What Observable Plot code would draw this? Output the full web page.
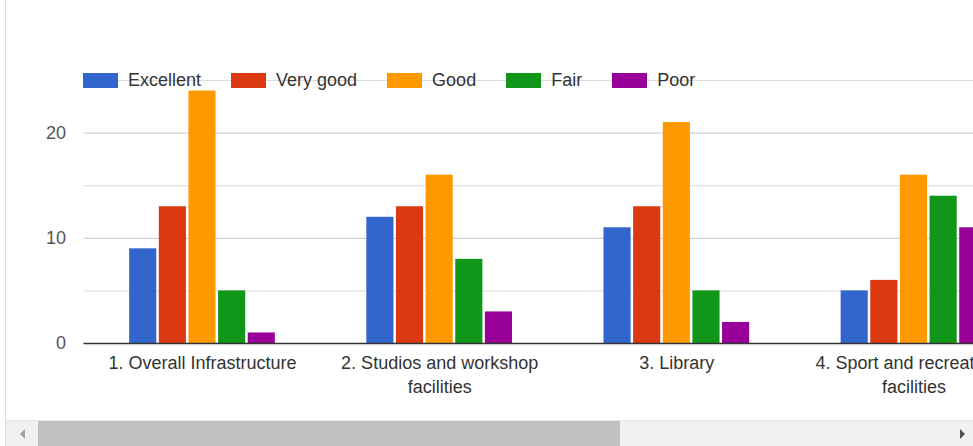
<!DOCTYPE html>
<html>
<head>
<meta charset="utf-8">
<script src="https://cdn.jsdelivr.net/npm/d3@7"></script>
<script src="https://cdn.jsdelivr.net/npm/@observablehq/plot@0.6"></script>
<style>
html,body{margin:0;padding:0;background:#fff;overflow:hidden;}
#wrap{position:relative;width:973px;height:446px;overflow:hidden;font-family:"Liberation Sans",Arial,sans-serif;background:#fff;}
#frame{position:absolute;left:5px;top:0;width:1px;height:446px;background:#dcdcdc;}
#chart{position:absolute;left:0;top:0;}
#legend{position:absolute;left:83px;top:70px;display:flex;gap:30px;font-size:18px;color:#333;line-height:21px;}
.item{display:flex;align-items:center;gap:10px;}
.sw{width:35px;height:15px;}
#scroll{position:absolute;left:6px;top:420px;width:967px;height:26px;background:#f1f1f1;border-top:1px solid #e6e6e6;}
#thumb{position:absolute;left:32px;top:0;width:582px;height:26px;background:#c1c1c1;}
#la{position:absolute;left:14px;top:8px;width:0;height:0;border-top:5px solid transparent;border-bottom:5px solid transparent;border-right:5px solid #a3a3a3;}
#ra{position:absolute;left:954px;top:8px;width:0;height:0;border-top:5px solid transparent;border-bottom:5px solid transparent;border-left:5px solid #505050;}
</style>
</head>
<body>
<div id="wrap">
  <div id="frame"></div>
  <div id="chart"></div>
  <div id="legend"></div>
  <div id="scroll"><div id="thumb"></div><div id="la"></div><div id="ra"></div></div>
</div>
<script>
const categories = ["1. Overall Infrastructure", "2. Studios and workshop facilities", "3. Library", "4. Sport and recreational facilities"];
const tickLabels = ["1. Overall Infrastructure", "2. Studios and workshop\nfacilities", "3. Library", "4. Sport and recreational\nfacilities"];
const ratings = ["Excellent", "Very good", "Good", "Fair", "Poor"];
const colors = ["#3366cc", "#dc3912", "#ff9900", "#109618", "#990099"];
const excellent = [9, 12, 11, 5];
const veryGood = [13, 13, 13, 6];
const good = [24, 16, 21, 16];
const fair = [5, 8, 5, 14];
const poor = [1, 3, 2, 11];
const yTicks = [0, 10, 20];
const majorGrid = [10, 20];
const minorGrid = [5, 15, 25];

const series = {"Excellent": excellent, "Very good": veryGood, "Good": good, "Fair": fair, "Poor": poor};
const table = categories.flatMap((c, i) => ratings.map(r => ({category: c, rating: r, value: series[r][i]})));
const keyOf = (c, r) => c + "|" + r;

// band domain: bars of each category, separated by spacer slots
const xDomain = [];
categories.forEach((c, i) => {
  if (i > 0) for (let k = 0; k < 3; k++) xDomain.push("spacer" + i + "-" + k);
  ratings.forEach(r => xDomain.push(keyOf(c, r)));
});

const chart = Plot.plot({
  width: 1032,
  height: 410,
  marginLeft: 83.5,
  marginRight: 0,
  marginTop: 80,
  marginBottom: 67,
  style: {maxWidth: "none", background: "transparent", fontFamily: "'Liberation Sans', Arial, sans-serif", fontSize: "18px", color: "#333", overflow: "visible"},
  x: {type: "band", domain: xDomain, paddingInner: 0.085, paddingOuter: 1.54, round: false, axis: null},
  y: {domain: [0, 25], axis: null},
  color: {domain: ratings, range: colors},
  marks: [
    Plot.ruleY(minorGrid, {stroke: "#dcdcdc", strokeWidth: 1}),
    Plot.ruleY(majorGrid, {stroke: "#c8c8c8", strokeWidth: 1}),
    Plot.barY(table, {x: d => keyOf(d.category, d.rating), y: "value", fill: "rating"}),
    Plot.ruleY([0], {stroke: "#333", strokeWidth: 1.5}),
    Plot.axisY({ticks: yTicks, tickSize: 0, tickPadding: 18, fontSize: 18, color: "#555", label: null}),
    Plot.axisX({
      ticks: categories.map(c => keyOf(c, "Good")),
      tickFormat: k => tickLabels[categories.indexOf(k.split("|")[0])],
      tickSize: 0, tickPadding: 9, fontSize: 18, color: "#333", lineHeight: 1.33, label: null
    })
  ]
});
document.getElementById("chart").appendChild(chart);

const legend = document.getElementById("legend");
ratings.forEach((r, i) => {
  const item = document.createElement("div");
  item.className = "item";
  const sw = document.createElement("div");
  sw.className = "sw";
  sw.style.background = colors[i];
  const t = document.createElement("span");
  t.textContent = r;
  item.appendChild(sw);
  item.appendChild(t);
  legend.appendChild(item);
});
</script>
</body>
</html>
